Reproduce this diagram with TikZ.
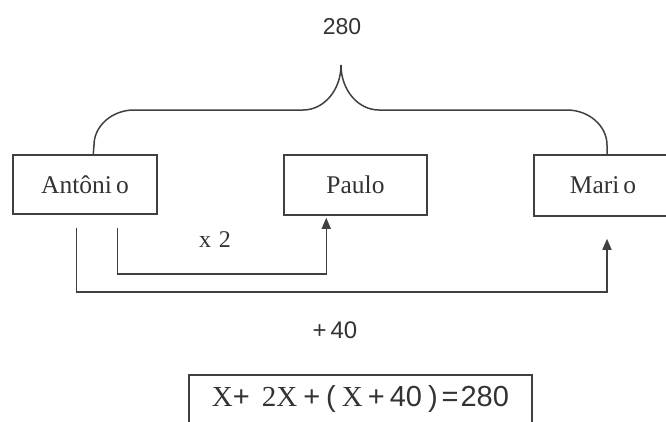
\documentclass[tikz,border=0pt]{standalone}
\usepackage{fontspec}
\setmainfont{Liberation Serif}
\newfontfamily\numfont{Liberation Sans}
\usetikzlibrary{arrows.meta,calc}
\definecolor{ink}{HTML}{404040}
\definecolor{txt}{HTML}{333333}
\newcommand{\ex}{{\rmfamily X}}
\begin{document}
\begin{tikzpicture}[x=1pt,y=-1pt,
  namebox/.style={draw=ink,line width=1.5pt,inner sep=0pt,text=txt,font=\fontsize{25.5}{28}\selectfont},
  conn/.style={draw=ink,line width=1.5pt},
  arr/.style={conn,-{Triangle[length=11pt,width=9pt]}},
  numlabel/.style={text=txt,font=\numfont\fontsize{23}{26}\selectfont,inner sep=0pt},
  serlabel/.style={text=txt,font=\fontsize{24}{28}\selectfont,inner sep=0pt},
]
\useasboundingbox (0,0) rectangle (666,421);
\clip (0,0) rectangle (666,421);
\fill[white] (0,0) rectangle (666,421);
\node[namebox,minimum width=144pt,minimum height=59pt] (ant) at (85,184.5) {Antôni\kern4pt o};
\node[namebox,minimum width=143pt,minimum height=60pt] (paulo) at (355.5,185) {Paulo};
\node[namebox,minimum width=138pt,minimum height=61pt] (mario) at (603,185.5) {Mari\kern4pt o};
\node[numlabel] (total) at (342,27) {280};
\node[serlabel] (times) at (215,240) {x\hspace{8pt}2};
\node[numlabel,font=\numfont\fontsize{24}{28}\selectfont] (plus) at (335,330) {+\hspace{4pt}40};
\node[draw=ink,line width=1.5pt,inner sep=0pt,minimum width=343pt,minimum height=48pt,text=txt,
      font=\numfont\fontsize{29}{32}\selectfont] (eq) at (360.5,399)
  {\ex+\hspace{12pt}{\rmfamily 2X}\hspace{6pt}+\hspace{6pt}(\hspace{6pt}\ex\hspace{5pt}+\hspace{5pt}40\hspace{6pt})\hspace{4pt}=\hspace{2pt}280};
% brace
\coordinate (bl) at ($(ant.north west)+(81,0)$);
\coordinate (br) at ($(mario.north)+(4,0)$);
\draw[conn] (bl) -- (94,145) .. controls (94,126) and (112,110) .. (134,110) -- (303,110)
  .. controls (324,110) and (341,90) .. (341,65)
  .. controls (341,90) and (358,110) .. (379,110) -- (567,110)
  .. controls (589,110) and (607,126) .. (607,145) -- (br);
% connectors
\coordinate (s1) at ($(ant.south west)+(105,13)$);
\coordinate (s2) at ($(ant.south west)+(64,13)$);
\coordinate (e2) at ($(mario.south)+(4,22)$);
\draw[arr,shorten >=2pt] (s1) -- ++(0,46) -| ($(paulo.south west)+(43,0)$);
\draw[arr] (s2) -- ++(0,64) -| (e2);
\end{tikzpicture}
\end{document}
